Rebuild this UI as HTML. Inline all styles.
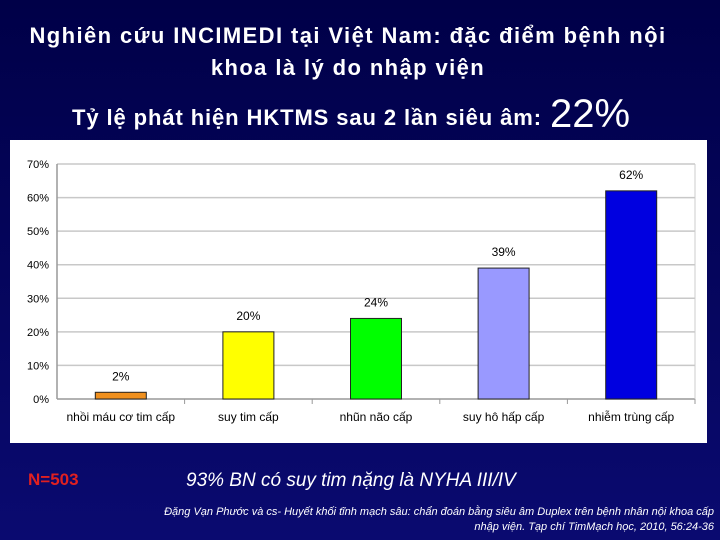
<!DOCTYPE html>
<html><head><meta charset="utf-8"><style>
body{margin:0;width:720px;height:540px;overflow:hidden;background:linear-gradient(#000048,#0a0a70);font-family:"Liberation Sans","DejaVu Sans",sans-serif;position:relative}
.t{position:absolute;color:#fff;font-weight:bold;white-space:nowrap}
</style></head><body>
<div class="t" style="left:0;width:696px;top:20px;text-align:center;font-size:22px;letter-spacing:1.4px;line-height:32px">Nghiên cứu INCIMEDI tại Việt Nam: đặc điểm bệnh nội<br>khoa là lý do nhập viện</div>
<div class="t" style="left:72px;top:105px;font-size:22px;letter-spacing:0.9px">Tỷ lệ phát hiện HKTMS sau 2 lần siêu âm:</div>
<div class="t" style="left:550px;top:92px;font-size:40px;font-weight:normal">22%</div>
<svg id="chart" style="position:absolute;left:10px;top:140px" width="697" height="303"></svg>
<div class="t" style="left:28px;top:470px;color:#e02020;font-size:17px">N=503</div>
<div class="t" style="left:186px;top:470px;font-size:19px;font-weight:normal;font-style:italic">93% BN có suy tim nặng là NYHA III/IV</div>
<div class="t" style="right:6px;top:505px;text-align:right;font-size:11px;font-weight:normal;font-style:italic;line-height:15px">Đặng Vạn Phước và cs- Huyết khối tĩnh mạch sâu: chẩn đoán bằng siêu âm Duplex trên bệnh nhân nội khoa cấp<br>nhập viện. Tạp chí TimMạch học, 2010, 56:24-36</div>
<script>
const categories=["nhồi máu cơ tim cấp","suy tim cấp","nhũn não cấp","suy hô hấp cấp","nhiễm trùng cấp"];
const values=[2,20,24,39,62];
const colors=["#f0901e","#ffff00","#00ff00","#9999ff","#0000e0"];
const ticks=[0,10,20,30,40,50,60,70];
const svg=document.getElementById('chart');
const NS="http://www.w3.org/2000/svg";
const L=47,R=685,T=24,B=259,maxV=70;
const y=v=>B-(v/maxV)*(B-T);
const cw=(R-L)/categories.length;
const x=i=>L+cw*i+cw/2;
function mk(t,a,txt){const e=document.createElementNS(NS,t);for(const k in a)e.setAttribute(k,a[k]);if(txt!=null)e.textContent=txt;svg.appendChild(e);return e;}
const bg=mk('rect',{x:0,y:0,width:697,height:303,fill:'#fff'});


ticks.forEach(t=>{
 const g=mk('line',{x1:L,x2:R,y1:y(t),y2:y(t),stroke:t==0?'#999':'#c8c8c8','stroke-width':1.5});
 
 
 const tl=mk('text',{x:L-8,y:y(t)+4,'text-anchor':'end','font-size':11,fill:'#000'},t+'%');
 
 
});
mk('line',{x1:L,x2:L,y1:T,y2:B,stroke:'#999','stroke-width':1.5});
mk('line',{x1:R,x2:R,y1:T,y2:B,stroke:'#ccc','stroke-width':1});
categories.forEach((c,i)=>{
 mk('line',{x1:L+cw*(i+1),x2:L+cw*(i+1),y1:B,y2:B+5,stroke:'#999'});
 const bw=51;
 const r=mk('rect',{x:x(i)-bw/2,y:y(values[i]),width:bw,height:B-y(values[i]),fill:colors[i],stroke:'#222','stroke-width':1});
 
 
 const v=mk('text',{x:x(i),y:y(values[i])-12,'text-anchor':'middle','font-size':12,fill:'#000'},values[i]+'%');
 
 
 const cl=mk('text',{x:x(i),y:B+22,'text-anchor':'middle','font-size':12,fill:'#000'},c);
 
 
});
</script>
</body></html>
